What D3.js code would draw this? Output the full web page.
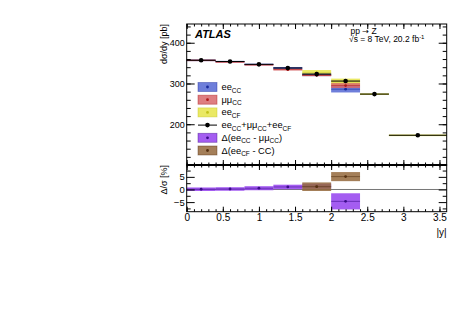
<!DOCTYPE html>
<html>
<head>
<meta charset="utf-8">
<script src="https://cdn.jsdelivr.net/npm/d3@7"></script>
<style>
  body { margin: 0; background: #fff; }
  svg { font-family: "Liberation Sans", Arial, sans-serif; }
  .domain { display: none; }
</style>
</head>
<body>
<div id="chart-area"></div>
<script>
// bins in |y|
var binEdges = [0, 0.4, 0.8, 1.2, 1.6, 2.0, 2.4, 2.8, 3.6];

// dsigma/dy [pb] per channel (ee_CC and mumu_CC cover first 6 bins, ee_CF last 4)
var eeCC = [357, 354, 347, 338, 321, 286];
var eeCCErr = [1.5, 1.5, 1.5, 2.5, 3, 8];
var mumuCC = [357, 353, 346, 334, 320, 295];
var mumuCCErr = [1.5, 1.5, 1.5, 2, 2, 6];
var eeCF = [326, 304, 274, 173];
var eeCFErr = [7, 8, 1.5, 1.5];
var eeCFStart = 4;
var combined = [357, 354, 347, 338, 323, 306, 274, 173];

// lower panel, differences in %
var diffCC = [0.1, 0.2, 0.5, 1.0, 1.3, -4.7];
var diffCCErr = [0.7, 0.7, 0.8, 0.9, 1.0, 3.2];
var diffCF = [1.1, 5.1];
var diffCFErr = [1.7, 1.8];

var W = 474, H = 334;
var left = 186.7, right = 446.7;
var topY = 24, mid = 165, bottom = 211.7;

var svg = d3.select('#chart-area')
  .append('svg')
    .attr('width', W)
    .attr('height', H);

var x = d3.scaleLinear().domain([0, 3.6]).range([left, right]);
var yTop = d3.scaleLinear().domain([100, 446]).range([mid, topY]);
var yBot = d3.scaleLinear().domain([-8.8, 9.7]).range([bottom, mid]);

var col = {
  blue: '#5567d3', blueDark: '#1a2a9c',
  red: '#d8676b', redDark: '#b01818',
  yellow: '#e6e54a', yellowDark: '#c2c21c',
  purple: '#9441ee', purpleDark: '#3b0c8a',
  brown: '#94683c', brownDark: '#553010'
};

var up = svg.append('g');
var lo = svg.append('g');

function bins(vals, errs, start) {
  return vals.map(function(v, i) {
    return { x0: binEdges[start + i], x1: binEdges[start + i + 1], v: v, e: errs ? errs[i] : 0 };
  });
}

function drawBoxes(g, data, y, fill, dark) {
  g.append('g').selectAll('rect')
    .data(data).enter().append('rect')
      .attr('x', function(d) { return x(d.x0); })
      .attr('width', function(d) { return x(d.x1) - x(d.x0); })
      .attr('y', function(d) { return y(d.v + d.e); })
      .attr('height', function(d) { return Math.max(1.5, y(d.v - d.e) - y(d.v + d.e)); })
      .attr('fill', fill)
      .attr('fill-opacity', 0.85);
  g.append('g').selectAll('line')
    .data(data).enter().append('line')
      .attr('x1', function(d) { return x(d.x0); })
      .attr('x2', function(d) { return x(d.x1); })
      .attr('y1', function(d) { return y(d.v); })
      .attr('y2', function(d) { return y(d.v); })
      .attr('stroke', dark)
      .attr('stroke-opacity', 0.7)
      .attr('stroke-width', 0.8);
  g.append('g').selectAll('circle')
    .data(data).enter().append('circle')
      .attr('cx', function(d) { return x((d.x0 + d.x1) / 2); })
      .attr('cy', function(d) { return y(d.v); })
      .attr('r', 1.4)
      .attr('fill', dark);
}

// upper panel
drawBoxes(up, bins(eeCF, eeCFErr, eeCFStart), yTop, col.yellow, col.yellowDark);
drawBoxes(up, bins(eeCC, eeCCErr, 0), yTop, col.blue, col.blueDark);
drawBoxes(up, bins(mumuCC, mumuCCErr, 0), yTop, col.red, col.redDark);

var comb = bins(combined, null, 0);
up.append('g').selectAll('line')
  .data(comb).enter().append('line')
    .attr('x1', function(d) { return x(d.x0); })
    .attr('x2', function(d) { return x(d.x1); })
    .attr('y1', function(d) { return yTop(d.v); })
    .attr('y2', function(d) { return yTop(d.v); })
    .attr('stroke', '#000')
    .attr('stroke-width', 1);
up.append('g').selectAll('circle')
  .data(comb).enter().append('circle')
    .attr('cx', function(d) { return x((d.x0 + d.x1) / 2); })
    .attr('cy', function(d) { return yTop(d.v); })
    .attr('r', 2.3)
    .attr('fill', '#000');

// lower panel
lo.append('line')
  .attr('x1', x(0)).attr('x2', x(3.6))
  .attr('y1', yBot(0)).attr('y2', yBot(0))
  .attr('stroke', '#777').attr('stroke-width', 1);
drawBoxes(lo, bins(diffCC, diffCCErr, 0), yBot, col.purple, col.purpleDark);
drawBoxes(lo, bins(diffCF, diffCFErr, eeCFStart), yBot, col.brown, col.brownDark);

// axes (ticks inside on all sides)
function addAxis(axisFn, scale, tr, major, minor, bigLen, smallLen, fmt, fs) {
  svg.append('g')
    .attr('transform', tr)
    .call(axisFn(scale).tickValues(minor).tickFormat('').tickSizeInner(-smallLen).tickSizeOuter(0));
  var g = svg.append('g')
    .attr('transform', tr)
    .call(axisFn(scale).tickValues(major).tickFormat(fmt).tickSizeInner(-bigLen).tickSizeOuter(0).tickPadding(2));
  g.selectAll('text')
    .attr('font-size', fs)
    .attr('font-family', '"Liberation Sans", Arial, sans-serif')
    .attr('fill', '#000');
  return g;
}

var xMajor = d3.range(0, 3.51, 0.5);
var xMinor = d3.range(0, 36).map(function(i) { return i / 10; });
var none = function() { return ''; };

// upper panel
addAxis(d3.axisLeft, yTop, 'translate(' + left + ',0)', [200, 300, 400], d3.range(120, 441, 20), 8, 4, d3.format('d'), '9px');
addAxis(d3.axisRight, yTop, 'translate(' + right + ',0)', [200, 300, 400], d3.range(120, 441, 20), 8, 4, none, '9px');
addAxis(d3.axisTop, x, 'translate(0,' + topY + ')', xMajor, xMinor, 5, 2.5, none, '9px');
addAxis(d3.axisBottom, x, 'translate(0,' + mid + ')', xMajor, xMinor, 5, 2.5, none, '9px');
// lower panel
addAxis(d3.axisLeft, yBot, 'translate(' + left + ',0)', [-5, 0, 5], [-7.5, -2.5, 2.5, 7.5], 8, 4, d3.format('d'), '9.5px');
addAxis(d3.axisRight, yBot, 'translate(' + right + ',0)', [-5, 0, 5], [-7.5, -2.5, 2.5, 7.5], 8, 4, none, '9px');
addAxis(d3.axisTop, x, 'translate(0,' + mid + ')', xMajor, xMinor, 5, 2.5, none, '9px');
var xb = addAxis(d3.axisBottom, x, 'translate(0,' + bottom + ')', xMajor, xMinor, 5, 2.5, function(d) { return d3.format('')(d); }, '10px');
xb.selectAll('text').attr('dy', '0.72em');

// frames
svg.append('rect')
  .attr('x', left).attr('y', topY)
  .attr('width', right - left).attr('height', mid - topY)
  .attr('fill', 'none').attr('stroke', '#000').attr('stroke-width', 1);
svg.append('rect')
  .attr('x', left).attr('y', mid)
  .attr('width', right - left).attr('height', bottom - mid)
  .attr('fill', 'none').attr('stroke', '#000').attr('stroke-width', 1);
svg.append('line')
  .attr('x1', left).attr('x2', right)
  .attr('y1', mid).attr('y2', mid)
  .attr('stroke', '#000').attr('stroke-width', 1.8);

// axis titles
svg.append('text')
  .attr('transform', 'translate(167,' + topY + ') rotate(-90)')
  .attr('text-anchor', 'end')
  .attr('font-size', '9px')
  .text('d\u03c3/dy [pb]');
svg.append('text')
  .attr('transform', 'translate(167,' + mid + ') rotate(-90)')
  .attr('text-anchor', 'end')
  .attr('font-size', '9px')
  .text('\u0394/\u03c3 [%]');
svg.append('text')
  .attr('x', right)
  .attr('y', 236)
  .attr('text-anchor', 'end')
  .attr('font-size', '10px')
  .text('|y|');

// labels
svg.append('text')
  .attr('x', 195).attr('y', 38)
  .attr('font-size', '11px')
  .attr('font-weight', 'bold')
  .attr('font-style', 'italic')
  .text('ATLAS');
var s1 = svg.append('text')
  .attr('x', 350.5).attr('y', 33.5)
  .attr('font-size', '8.5px');
s1.append('tspan').text('pp ');
s1.append('tspan').attr('font-family', '"DejaVu Sans", sans-serif').attr('font-size', '8px').text('\u2192');
s1.append('tspan').text(' Z');
var s2 = svg.append('text')
  .attr('x', 349).attr('y', 42)
  .attr('font-size', '8.5px');
s2.append('tspan').text('\u221as = 8 TeV, 20.2 fb');
s2.append('tspan').attr('font-size', '6px').attr('dy', '-3').text('-1');

// legend
var legY = [87, 99.7, 112.4, 125.1, 137.8, 150.5];
var legX = 198, legW = 19, legH = 9, legTx = 221.5;
var legFill = [col.blue, col.red, col.yellow, null, col.purple, col.brown];
var legDark = [col.blueDark, col.redDark, col.yellowDark, '#000', col.purpleDark, col.brownDark];
var leg = svg.append('g');
legY.forEach(function(ly, i) {
  if (legFill[i]) {
    leg.append('rect')
      .attr('x', legX).attr('y', ly - legH / 2)
      .attr('width', legW).attr('height', legH)
      .attr('fill', legFill[i]).attr('fill-opacity', 0.85)
      .attr('stroke', legDark[i]).attr('stroke-opacity', 0.5).attr('stroke-width', 0.8);
    leg.append('circle').attr('cx', legX + legW / 2).attr('cy', ly).attr('r', 1.4).attr('fill', legDark[i]);
  } else {
    leg.append('line')
      .attr('x1', legX).attr('x2', legX + legW)
      .attr('y1', ly).attr('y2', ly)
      .attr('stroke', '#000').attr('stroke-width', 1);
    leg.append('circle').attr('cx', legX + legW / 2).attr('cy', ly).attr('r', 2.3).attr('fill', '#000');
  }
});

function legText(i, parts) {
  var t = leg.append('text')
    .attr('x', legTx).attr('y', legY[i] + 3)
    .attr('font-size', '9.3px');
  parts.forEach(function(p) {
    if (p[1] === 'sub') {
      t.append('tspan').attr('font-size', '6.5px').attr('dy', 2.5).text(p[0]);
    } else {
      t.append('tspan').attr('dy', p[2] || 0).text(p[0]);
    }
  });
}
legText(0, [['ee'], ['CC', 'sub']]);
legText(1, [['\u03bc\u03bc'], ['CC', 'sub']]);
legText(2, [['ee'], ['CF', 'sub']]);
legText(3, [['ee'], ['CC', 'sub'], ['+\u03bc\u03bc', '', -2.5], ['CC', 'sub'], ['+ee', '', -2.5], ['CF', 'sub']]);
legText(4, [['\u0394(ee'], ['CC', 'sub'], [' - \u03bc\u03bc', '', -2.5], ['CC', 'sub'], [')', '', -2.5]]);
legText(5, [['\u0394(ee'], ['CF', 'sub'], [' - CC)', '', -2.5]]);
</script>
</body>
</html>
